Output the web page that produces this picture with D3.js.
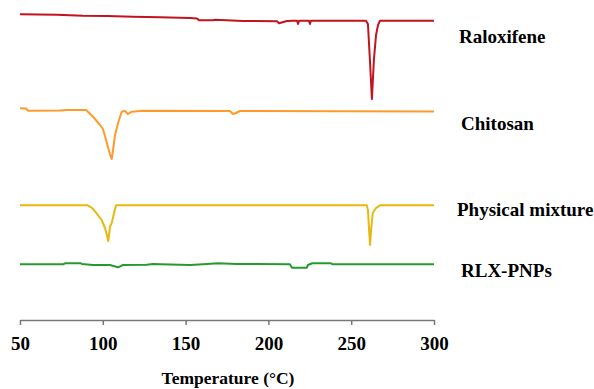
<!DOCTYPE html>
<html>
<head>
<meta charset="utf-8">
<script src="https://cdn.jsdelivr.net/npm/d3@7"></script>
<style>
  html, body { margin: 0; padding: 0; background: #fff; }
  svg { display: block; }
  text { font-family: "Liberation Serif", "Times New Roman", serif; font-weight: bold; fill: #000; }
</style>
</head>
<body>
<svg id="chart" width="594" height="389"></svg>
<script>
// Temperature (°C) and offset heat flow (arbitrary units, stacked curves)
const raloxifeneT  = [50, 72.3, 88.0, 102.5, 118.2, 134.5, 152.7, 156.9, 158.1, 166.5, 167.8, 184.7, 205.2, 206.4, 211.2, 214.9, 217.3, 217.9, 218.5, 224.5, 225.1, 225.7, 258.9, 260.1, 261.3, 262.5, 263.7, 265.0, 266.2, 267.4, 300];
const raloxifeneHF = [-0.143, -0.147, -0.157, -0.160, -0.167, -0.173, -0.180, -0.185, -0.203, -0.203, -0.198, -0.210, -0.213, -0.233, -0.210, -0.207, -0.207, -0.240, -0.207, -0.207, -0.240, -0.207, -0.207, -0.240, -0.600, -0.990, -0.600, -0.350, -0.250, -0.207, -0.207];

const chitosanT  = [50, 53.6, 54.8, 74.2, 78.4, 89.9, 94.1, 98.3, 100.1, 101.3, 103.1, 104.3, 105.4, 106.2, 107.4, 109.2, 111.4, 113.4, 115.2, 117.5, 124.3, 176.8, 178.6, 180.4, 182.8, 300];
const chitosanHF = [-1.083, -1.085, -1.107, -1.105, -1.100, -1.100, -1.167, -1.250, -1.290, -1.360, -1.470, -1.540, -1.590, -1.500, -1.350, -1.230, -1.117, -1.110, -1.140, -1.117, -1.107, -1.110, -1.140, -1.130, -1.110, -1.115];

const mixtureT  = [50, 90.9, 93.5, 96.3, 99.3, 101.3, 102.5, 103.3, 104.0, 104.3, 105.4, 106.8, 108.0, 259.4, 260.1, 260.8, 261.4, 262.0, 263.0, 265.0, 267.4, 300];
const mixtureHF = [-2.053, -2.053, -2.080, -2.133, -2.200, -2.280, -2.350, -2.410, -2.320, -2.267, -2.230, -2.130, -2.053, -2.053, -2.100, -2.300, -2.450, -2.300, -2.130, -2.080, -2.053, -2.053];

const pnpsT  = [50, 76.0, 77.2, 86.8, 87.4, 94.1, 104.3, 109.2, 112.2, 126.5, 130.3, 134.5, 152.7, 160.5, 169.6, 180.9, 213.0, 214.2, 223.1, 223.9, 226.5, 237.8, 238.6, 300];
const pnpsHF = [-2.643, -2.643, -2.633, -2.633, -2.640, -2.650, -2.650, -2.673, -2.650, -2.647, -2.640, -2.643, -2.650, -2.643, -2.633, -2.640, -2.643, -2.677, -2.677, -2.650, -2.633, -2.633, -2.643, -2.643];

const seriesNames = ["Raloxifene", "Chitosan", "Physical mixture", "RLX-PNPs"];
const seriesColors = ["#C0141E", "#FF9A2A", "#E6B810", "#259A2E"];
const xTicks = [50, 100, 150, 200, 250, 300];
const xTitle = "Temperature (°C)";

const series = [
  { name: seriesNames[0], T: raloxifeneT, HF: raloxifeneHF },
  { name: seriesNames[1], T: chitosanT, HF: chitosanHF },
  { name: seriesNames[2], T: mixtureT, HF: mixtureHF },
  { name: seriesNames[3], T: pnpsT, HF: pnpsHF }
];

const svg = d3.select("#chart");
const x = d3.scaleLinear().domain([50, 300]).range([20, 434]);
const y = d3.scaleLinear().domain([0, -3.2]).range([0, 320]);

const line = d3.line().x(d => x(d[0])).y(d => y(d[1]));

series.forEach((s, i) => {
  const pts = s.T.map((t, k) => [t, s.HF[k]]);
  svg.append("path")
    .datum(pts)
    .attr("d", line)
    .attr("fill", "none")
    .attr("stroke", seriesColors[i])
    .attr("stroke-width", 2)
    .attr("stroke-linejoin", "round");
});

// labels next to curves
const labelPos = [[459, 42.5], [461, 129.5], [457, 216], [461, 277]];
series.forEach((s, i) => {
  svg.append("text")
    .attr("x", labelPos[i][0])
    .attr("y", labelPos[i][1])
    .attr("font-size", 19)
    .text(s.name);
});

// x axis
const axisY = 320;
const axis = d3.axisBottom(x).tickValues(xTicks).tickSize(5).tickSizeOuter(0).tickPadding(12)
  .tickFormat(d3.format("d"));
const g = svg.append("g").attr("transform", `translate(0,${axisY})`).call(axis);
g.select(".domain").attr("stroke", "#777").attr("stroke-width", 1.5);
g.selectAll(".tick line").attr("stroke", "#777").attr("stroke-width", 1.5);
g.selectAll(".tick text")
  .attr("font-size", 19)
  .attr("font-family", "'Liberation Serif', 'Times New Roman', serif")
  .attr("font-weight", "bold")
  .attr("fill", "#000");

svg.append("text")
  .attr("x", 228)
  .attr("y", 384)
  .attr("text-anchor", "middle")
  .attr("font-size", 17.5)
  .text(xTitle);
</script>
</body>
</html>
